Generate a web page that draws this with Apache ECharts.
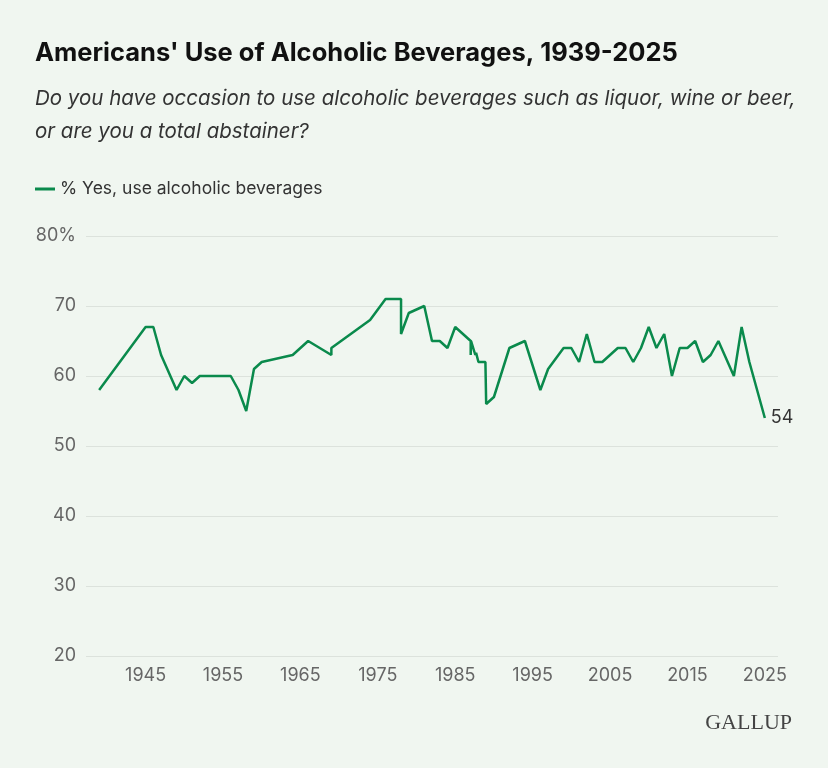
<!DOCTYPE html>
<html>
<head>
<meta charset="utf-8">
<script src="https://cdn.jsdelivr.net/npm/echarts@6/dist/echarts.min.js"></script>
<style>
html,body{margin:0;padding:0;background:#f0f6f0;}
#chart{width:828px;height:768px;}
</style>
</head>
<body>
<div id="chart"></div>
<script>
var years = [1939,1945,1946,1947,1949,1950,1951,1952,1956,1957,1958,1959,1960,1964,1966,1969,1969,1974,1976,1977,1978,1978,1979,1981,1982,1983,1984,1985,1987,1987,1987.05,1987.6,1987.7,1988,1988.9,1989,1990,1992,1994,1996,1997,1999,2000,2001,2002,2003,2004,2006,2007,2008,2009,2010,2011,2012,2013,2014,2015,2016,2017,2018,2019,2021,2022,2023,2025];
var yesPct = [58,67,67,63,58,60,59,60,60,58,55,61,62,63,65,63,64,68,71,71,71,66,69,70,65,65,64,67,65,63,65,63,63.3,62,62,56,57,64,65,58,61,64,64,62,66,62,62,64,64,62,64,67,64,66,60,64,64,65,62,63,65,60,67,62,54];
var xTickLabels = [1945,1955,1965,1975,1985,1995,2005,2015,2025];
var yTicks = [20,30,40,50,60,70,80];
var seriesName = '% Yes, use alcoholic beverages';

var data = years.map(function(y,i){return [y, yesPct[i]];});
var green = '#0a8a4c';
var chart = echarts.init(document.getElementById('chart'));
chart.setOption({
  backgroundColor: '#f0f6f0',
  animation: false,
  title: [
    {text: "Americans' Use of Alcoholic Beverages, 1939-2025", left: 30, top: 35,
     textStyle: {fontFamily: 'Inter', fontWeight: 'bold', fontSize: 25.5, color: '#111'}},
    {text: 'Do you have occasion to use alcoholic beverages such as liquor, wine or beer,', left: 30, top: 84,
     textStyle: {fontFamily: 'Inter', fontStyle: 'italic', fontWeight: 'normal', fontSize: 20.5, color: '#333'}},
    {text: 'or are you a total abstainer?', left: 30, top: 117,
     textStyle: {fontFamily: 'Inter', fontStyle: 'italic', fontWeight: 'normal', fontSize: 20.5, color: '#333'}},
    {text: 'GALLUP', right: 31, top: 707,
     textStyle: {fontFamily: 'Liberation Serif', fontWeight: 'normal', fontSize: 22, color: '#444'}}
  ],
  legend: {
    left: 30, top: 175, icon: 'rect', itemWidth: 20, itemHeight: 3, itemGap: 6,
    textStyle: {fontFamily: 'Inter', fontSize: 17.5, color: '#333'},
    data: [seriesName]
  },
  grid: {left: 86, right: 50, top: 236, bottom: 112, containLabel: false},
  xAxis: {
    type: 'value', min: 1937.3, max: 2026.7,
    axisLine: {show: false}, axisTick: {show: false}, splitLine: {show: false},
    axisLabel: {customValues: xTickLabels, fontFamily: 'Inter', fontSize: 18, color: '#666', margin: 11,
      formatter: function(v){return String(v);}}
  },
  yAxis: {
    type: 'value', min: 20, max: 80, interval: 10,
    axisLine: {show: false}, axisTick: {show: false},
    splitLine: {lineStyle: {color: '#dce2dc', width: 1}},
    axisLabel: {fontFamily: 'Inter', fontSize: 18, color: '#666', margin: 10,
      formatter: function(v){return v === 80 ? '80%' : String(v);}}
  },
  series: [{
    name: seriesName, type: 'line', data: data, showSymbol: false, symbol: 'none',
    lineStyle: {color: green, width: 2.5}, itemStyle: {color: green},
    endLabel: {show: true, distance: 6, fontFamily: 'Inter', fontSize: 18, color: '#333',
      formatter: function(p){return String(p.value[1]);}}
  }]
});
</script>
</body>
</html>
